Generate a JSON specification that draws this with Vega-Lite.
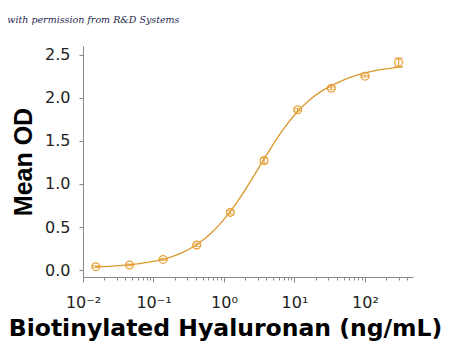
{
  "$schema": "https://vega.github.io/schema/vega-lite/v6.json",
  "width": 330,
  "height": 231,
  "autosize": {"type": "none"},
  "padding": {"left": 83, "top": 46, "right": 37, "bottom": 77},
  "background": "white",
  "title": {
    "text": "with permission from R&D Systems",
    "anchor": "start",
    "frame": "bounds",
    "font": "DejaVu Serif",
    "fontStyle": "italic",
    "fontWeight": "normal",
    "fontSize": 9.5,
    "color": "#1f1f4f",
    "dx": -1,
    "offset": 22
  },
  "config": {
    "view": {"stroke": null},
    "axis": {
      "grid": false,
      "domainColor": "#888888",
      "tickColor": "#888888",
      "labelFont": "DejaVu Sans",
      "labelFontSize": 16,
      "labelColor": "#222222",
      "titleFont": "DejaVu Sans",
      "titleFontWeight": "bold",
      "titleFontSize": 23.5,
      "titleColor": "#000000"
    }
  },
  "datasets": {
    "pts": [
      {"conc": 0.0152, "od": 0.04, "lo": 0.03, "hi": 0.05},
      {"conc": 0.0457, "od": 0.06, "lo": 0.05, "hi": 0.07},
      {"conc": 0.137, "od": 0.124, "lo": 0.114, "hi": 0.134},
      {"conc": 0.41, "od": 0.29, "lo": 0.275, "hi": 0.305},
      {"conc": 1.23, "od": 0.67, "lo": 0.65, "hi": 0.69},
      {"conc": 3.7, "od": 1.27, "lo": 1.24, "hi": 1.3},
      {"conc": 11.1, "od": 1.86, "lo": 1.845, "hi": 1.875},
      {"conc": 33.3, "od": 2.11, "lo": 2.095, "hi": 2.125},
      {"conc": 100, "od": 2.25, "lo": 2.24, "hi": 2.26},
      {"conc": 300, "od": 2.41, "lo": 2.36, "hi": 2.46}
    ],
    "fit": [
      {"conc": 0.0152, "od": 0.038},
      {"conc": 0.0251, "od": 0.046},
      {"conc": 0.0398, "od": 0.057},
      {"conc": 0.0631, "od": 0.074},
      {"conc": 0.1, "od": 0.1},
      {"conc": 0.1585, "od": 0.14},
      {"conc": 0.2512, "od": 0.2},
      {"conc": 0.3981, "od": 0.288},
      {"conc": 0.631, "od": 0.415},
      {"conc": 1, "od": 0.588},
      {"conc": 1.585, "od": 0.806},
      {"conc": 2.512, "od": 1.062},
      {"conc": 3.981, "od": 1.33},
      {"conc": 6.31, "od": 1.585},
      {"conc": 10, "od": 1.8},
      {"conc": 15.85, "od": 1.965},
      {"conc": 25.12, "od": 2.085},
      {"conc": 39.81, "od": 2.17},
      {"conc": 63.1, "od": 2.238},
      {"conc": 100, "od": 2.288},
      {"conc": 158.5, "od": 2.323},
      {"conc": 251.2, "od": 2.347},
      {"conc": 340, "od": 2.357}
    ]
  },
  "encoding": {
    "x": {
      "field": "conc",
      "type": "quantitative",
      "scale": {"type": "log", "domain": [0.01, 480], "nice": false},
      "axis": {
        "title": "Biotinylated Hyaluronan (ng/mL)",
        "titleX": 142,
        "titleAlign": "center",
        "values": [0.01,0.02,0.03,0.04,0.05,0.06,0.07,0.08,0.09,0.1,0.2,0.3,0.4,0.5,0.6,0.7,0.8,0.9,1,2,3,4,5,6,7,8,9,10,20,30,40,50,60,70,80,90,100,200,300,400],
        "labelExpr": "datum.value==0.01?'10⁻²':datum.value==0.1?'10⁻¹':datum.value==1?'10⁰':datum.value==10?'10¹':datum.value==100?'10²':''",
        "tickSize": {"condition": {"test": "indexof([0.01,0.1,1,10,100], datum.value) >= 0", "value": 5}, "value": 3},
        "labelPadding": 12,
        "titlePadding": 6,
        "labelOverlap": false,
        "labelFlush": false
      }
    }
  },
  "layer": [
    {
      "data": {"name": "fit"},
      "mark": {"type": "line", "color": "#D9982E", "strokeWidth": 1.3, "interpolate": "monotone"},
      "encoding": {
        "y": {
          "field": "od",
          "type": "quantitative",
          "scale": {"domain": [-0.08, 2.6], "nice": false, "zero": false},
          "axis": {
            "title": "Mean OD",
            "titleFont": "Liberation Sans",
            "titleFontSize": 25,
            "values": [0, 0.5, 1, 1.5, 2, 2.5],
            "format": ".1f",
            "tickSize": 4,
            "labelPadding": 9,
            "titlePadding": 8
          }
        }
      }
    },
    {
      "data": {"name": "pts"},
      "mark": {"type": "rule", "color": "#E8A13A", "strokeWidth": 1.2},
      "encoding": {
        "y": {"field": "lo", "type": "quantitative"},
        "y2": {"field": "hi"}
      }
    },
    {
      "data": {"name": "pts"},
      "mark": {"type": "tick", "color": "#E8A13A", "orient": "horizontal", "size": 9, "thickness": 1.2},
      "encoding": {
        "y": {"field": "lo", "type": "quantitative"}
      }
    },
    {
      "data": {"name": "pts"},
      "mark": {"type": "tick", "color": "#E8A13A", "orient": "horizontal", "size": 9, "thickness": 1.2},
      "encoding": {
        "y": {"field": "hi", "type": "quantitative"}
      }
    },
    {
      "data": {"name": "pts"},
      "mark": {"type": "point", "shape": "circle", "filled": false, "color": "#E8A13A", "size": 60, "strokeWidth": 1.3, "opacity": 1},
      "encoding": {
        "y": {"field": "od", "type": "quantitative"}
      }
    }
  ]
}
